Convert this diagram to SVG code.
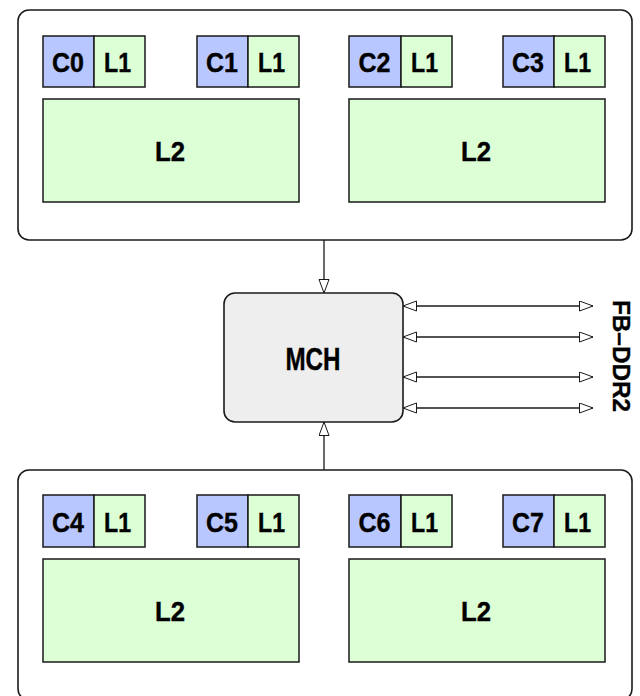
<svg xmlns="http://www.w3.org/2000/svg" width="640" height="696" viewBox="0 0 640 696">
  <style>
    .pkg { fill: #ffffff; stroke: #1a1a1a; stroke-width: 1.6; }
    .core { fill: #b8c7ff; stroke: #1a1a1a; stroke-width: 1.5; }
    .cache { fill: #dcffd6; stroke: #1a1a1a; stroke-width: 1.5; }
    .hub { fill: #eeeeee; stroke: #1a1a1a; stroke-width: 1.6; }
    .lbl { font-family: "Liberation Sans", Arial, sans-serif; font-weight: bold; fill: #000000; stroke: #000000; stroke-width: 0.4; text-anchor: middle; }
    .wire { stroke: #1a1a1a; stroke-width: 1.3; fill: none; }
  </style>
  <defs>
    <marker id="open-arrow" markerUnits="userSpaceOnUse" markerWidth="16" markerHeight="12" refX="14" refY="5.5" orient="auto-start-reverse">
      <path d="M0.5,0.5 L14,5.5 L0.5,10.5 Z" fill="#ffffff" stroke="#1a1a1a" stroke-width="1"/>
    </marker>
  </defs>

  <!-- upper processor package: cores C0-C3 -->
  <g id="pkg-top">
    <rect class="pkg" x="18" y="10" width="614" height="230" rx="11"/>
    <g id="c0">
      <rect class="core" x="43" y="36" width="51" height="51"/>
      <text class="lbl" x="68" y="72" font-size="28" textLength="32" lengthAdjust="spacingAndGlyphs">C0</text>
      <rect class="cache" x="94" y="36" width="51" height="51"/>
      <text class="lbl" x="117.5" y="72" font-size="28" textLength="27" lengthAdjust="spacingAndGlyphs">L1</text>
    </g>
    <g id="c1">
      <rect class="core" x="197" y="36" width="51" height="51"/>
      <text class="lbl" x="222" y="72" font-size="28" textLength="32" lengthAdjust="spacingAndGlyphs">C1</text>
      <rect class="cache" x="248" y="36" width="51" height="51"/>
      <text class="lbl" x="271.5" y="72" font-size="28" textLength="27" lengthAdjust="spacingAndGlyphs">L1</text>
    </g>
    <g id="l2-a">
      <rect class="cache" x="43" y="99" width="256" height="103"/>
      <text class="lbl" x="170" y="161" font-size="28" textLength="30" lengthAdjust="spacingAndGlyphs">L2</text>
    </g>
    <g id="c2">
      <rect class="core" x="349" y="36" width="52" height="51"/>
      <text class="lbl" x="374.5" y="72" font-size="28" textLength="32" lengthAdjust="spacingAndGlyphs">C2</text>
      <rect class="cache" x="401" y="36" width="51" height="51"/>
      <text class="lbl" x="424.5" y="72" font-size="28" textLength="27" lengthAdjust="spacingAndGlyphs">L1</text>
    </g>
    <g id="c3">
      <rect class="core" x="503" y="36" width="51" height="51"/>
      <text class="lbl" x="528" y="72" font-size="28" textLength="32" lengthAdjust="spacingAndGlyphs">C3</text>
      <rect class="cache" x="554" y="36" width="51" height="51"/>
      <text class="lbl" x="577.5" y="72" font-size="28" textLength="27" lengthAdjust="spacingAndGlyphs">L1</text>
    </g>
    <g id="l2-b">
      <rect class="cache" x="349" y="99" width="256" height="103"/>
      <text class="lbl" x="476" y="161" font-size="28" textLength="30" lengthAdjust="spacingAndGlyphs">L2</text>
    </g>
  </g>

  <!-- memory controller hub -->
  <g id="mch">
    <rect class="hub" x="224" y="293" width="179" height="129" rx="11"/>
    <text class="lbl" x="313" y="370" font-size="31" textLength="55" lengthAdjust="spacingAndGlyphs">MCH</text>
  </g>

  <!-- FB-DDR2 channel label -->
  <g id="fbddr2">
    <text class="lbl" transform="translate(613,356) rotate(90)" x="0" y="0" font-size="24" textLength="112" lengthAdjust="spacingAndGlyphs">FB–DDR2</text>
  </g>

  <!-- lower processor package: cores C4-C7 -->
  <g id="pkg-bottom">
    <rect class="pkg" x="18" y="470" width="614" height="230" rx="11"/>
    <g id="c4">
      <rect class="core" x="43" y="495" width="51" height="52"/>
      <text class="lbl" x="68" y="532" font-size="28" textLength="32" lengthAdjust="spacingAndGlyphs">C4</text>
      <rect class="cache" x="94" y="495" width="51" height="52"/>
      <text class="lbl" x="117.5" y="532" font-size="28" textLength="27" lengthAdjust="spacingAndGlyphs">L1</text>
    </g>
    <g id="c5">
      <rect class="core" x="197" y="495" width="51" height="52"/>
      <text class="lbl" x="222" y="532" font-size="28" textLength="32" lengthAdjust="spacingAndGlyphs">C5</text>
      <rect class="cache" x="248" y="495" width="51" height="52"/>
      <text class="lbl" x="271.5" y="532" font-size="28" textLength="27" lengthAdjust="spacingAndGlyphs">L1</text>
    </g>
    <g id="l2-c">
      <rect class="cache" x="43" y="559" width="256" height="103"/>
      <text class="lbl" x="170" y="621" font-size="28" textLength="30" lengthAdjust="spacingAndGlyphs">L2</text>
    </g>
    <g id="c6">
      <rect class="core" x="349" y="495" width="52" height="52"/>
      <text class="lbl" x="374.5" y="532" font-size="28" textLength="32" lengthAdjust="spacingAndGlyphs">C6</text>
      <rect class="cache" x="401" y="495" width="51" height="52"/>
      <text class="lbl" x="424.5" y="532" font-size="28" textLength="27" lengthAdjust="spacingAndGlyphs">L1</text>
    </g>
    <g id="c7">
      <rect class="core" x="503" y="495" width="51" height="52"/>
      <text class="lbl" x="528" y="532" font-size="28" textLength="32" lengthAdjust="spacingAndGlyphs">C7</text>
      <rect class="cache" x="554" y="495" width="51" height="52"/>
      <text class="lbl" x="577.5" y="532" font-size="28" textLength="27" lengthAdjust="spacingAndGlyphs">L1</text>
    </g>
    <g id="l2-d">
      <rect class="cache" x="349" y="559" width="256" height="103"/>
      <text class="lbl" x="476" y="621" font-size="28" textLength="30" lengthAdjust="spacingAndGlyphs">L2</text>
    </g>
  </g>

  <!-- connectors: front-side buses and FB-DDR2 channels -->
  <g id="connectors">
    <line class="wire" x1="324" y1="240" x2="324" y2="293" marker-end="url(#open-arrow)"/>
    <line class="wire" x1="324" y1="470" x2="324" y2="422" marker-end="url(#open-arrow)"/>
    <line class="wire" x1="403" y1="306" x2="593" y2="306" marker-start="url(#open-arrow)" marker-end="url(#open-arrow)"/>
    <line class="wire" x1="403" y1="337" x2="593" y2="337" marker-start="url(#open-arrow)" marker-end="url(#open-arrow)"/>
    <line class="wire" x1="403" y1="377" x2="593" y2="377" marker-start="url(#open-arrow)" marker-end="url(#open-arrow)"/>
    <line class="wire" x1="403" y1="408" x2="593" y2="408" marker-start="url(#open-arrow)" marker-end="url(#open-arrow)"/>
  </g>
</svg>
